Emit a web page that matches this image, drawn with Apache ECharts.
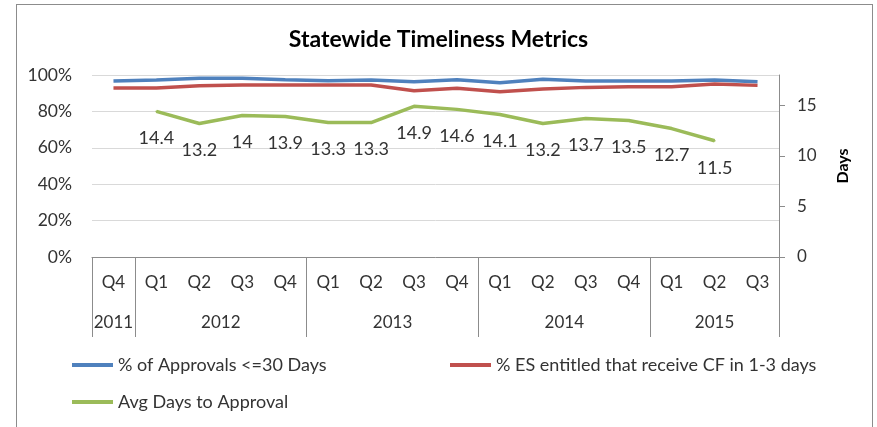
<!DOCTYPE html>
<html>
<head>
<meta charset="utf-8">
<script src="https://cdn.jsdelivr.net/npm/echarts@6/dist/echarts.min.js"></script>
<style>
  html, body { margin: 0; padding: 0; overflow: hidden; background: #fff; }
  #frame { position: absolute; left: 16px; top: 4px; width: 855px; height: 440px; border: 1px solid #8c8c8c; }
  #chart { position: absolute; left: 0; top: 0; width: 877px; height: 427px; }
</style>
</head>
<body>
<div id="frame"></div>
<div id="chart"></div>
<script>
// quarters on the lower axis, years grouped under them
const quarters = ['Q4', 'Q1', 'Q2', 'Q3', 'Q4', 'Q1', 'Q2', 'Q3', 'Q4', 'Q1', 'Q2', 'Q3', 'Q4', 'Q1', 'Q2', 'Q3']
const years = ['2011', '2012', '2013', '2014', '2015']
const yearSpans = [1, 4, 4, 4, 3]

// series values
const approvals30 = [96.7, 97.3, 98.2, 98.2, 97.4, 96.9, 97.3, 96.3, 97.4, 95.8, 97.6, 96.7, 96.7, 96.7, 97.3, 96.3]
const esEntitled = [92.9, 92.9, 94.1, 94.5, 94.5, 94.5, 94.5, 91.4, 92.7, 90.8, 92.3, 93.2, 93.6, 93.6, 95.1, 94.3]
const avgDays = [null, 14.4, 13.2, 14, 13.9, 13.3, 13.3, 14.9, 14.6, 14.1, 13.2, 13.7, 13.5, 12.7, 11.5, null]

const pctTicks = [0, 20, 40, 60, 80, 100]
const dayTicks = [0, 5, 10, 15]

// year group boundaries and centres in quarter units
const yearEdges = [0]
yearSpans.forEach(n => yearEdges.push(yearEdges[yearEdges.length - 1] + n))
const yearCenters = yearSpans.map((n, i) => yearEdges[i] + n / 2)

const font = 'Lato'
const textColor = '#333'
const axisGray = '#8c8c8c'

const legendBase = {
  icon: 'rect',
  itemWidth: 41,
  itemHeight: 4,
  padding: 0,
  textStyle: { fontFamily: font, fontSize: 18, color: textColor }
}

const chart = echarts.init(document.getElementById('chart'))
chart.setOption({
  animation: false,
  textStyle: { fontFamily: font },
  title: {
    text: 'Statewide Timeliness Metrics',
    left: 'center',
    top: 23,
    textStyle: { fontFamily: font, fontSize: 23, fontWeight: 'bold', color: '#000' }
  },
  legend: [
    Object.assign({ left: 72, top: 356, data: ['% of Approvals <=30 Days'] }, legendBase),
    Object.assign({ left: 450, top: 356, data: ['% ES entitled that receive CF in 1-3 days'] }, legendBase),
    Object.assign({ left: 72, top: 393, data: ['Avg Days to Approval'] }, legendBase)
  ],
  grid: { left: 92, right: 98, top: 75, bottom: 170 },
  xAxis: [
    {
      type: 'category',
      data: quarters,
      position: 'bottom',
      axisLine: { onZero: false, lineStyle: { color: axisGray } },
      axisTick: { show: false },
      axisLabel: { interval: 0, margin: 17, fontSize: 17, color: textColor }
    },
    {
      type: 'value',
      min: 0,
      max: quarters.length,
      position: 'bottom',
      axisLine: { show: false, onZero: false },
      splitLine: { show: false },
      axisTick: { show: true, customValues: yearEdges, length: 80, lineStyle: { color: axisGray } },
      axisLabel: {
        customValues: yearCenters,
        margin: 57,
        fontSize: 17,
        color: textColor,
        formatter: v => years[yearCenters.indexOf(v)] || ''
      }
    }
  ],
  yAxis: [
    {
      type: 'value',
      min: 0,
      max: 100,
      interval: 20,
      axisLine: { show: false },
      axisTick: { show: false },
      axisLabel: { formatter: '{value}%', margin: 20, fontSize: 17.5, color: textColor, customValues: pctTicks },
      splitLine: { lineStyle: { color: '#d9d9d9' } }
    },
    {
      type: 'value',
      min: 0,
      max: 18,
      interval: 5,
      position: 'right',
      name: 'Days',
      nameLocation: 'middle',
      nameRotate: 90,
      nameGap: 56,
      nameTextStyle: { fontFamily: font, fontSize: 16, fontWeight: 'bold', color: '#000' },
      axisLine: { show: true, lineStyle: { color: axisGray } },
      axisTick: { show: true, length: 6, customValues: dayTicks, lineStyle: { color: axisGray } },
      axisLabel: { margin: 18, fontSize: 17, color: textColor, customValues: dayTicks },
      splitLine: { show: false }
    }
  ],
  series: [
    {
      name: '% of Approvals <=30 Days',
      type: 'line',
      data: approvals30,
      symbol: 'none',
      color: '#4F81BD',
      lineStyle: { width: 3.5 }
    },
    {
      name: '% ES entitled that receive CF in 1-3 days',
      type: 'line',
      data: esEntitled,
      symbol: 'none',
      color: '#C0504D',
      lineStyle: { width: 3.5 }
    },
    {
      name: 'Avg Days to Approval',
      type: 'line',
      yAxisIndex: 1,
      data: avgDays,
      symbol: 'circle',
      symbolSize: 2,
      showSymbol: true,
      color: '#9BBB59',
      lineStyle: { width: 3.5 },
      label: {
        show: true,
        position: 'bottom',
        distance: 17,
        fontSize: 18,
        color: textColor
      }
    }
  ]
})
</script>
</body>
</html>
